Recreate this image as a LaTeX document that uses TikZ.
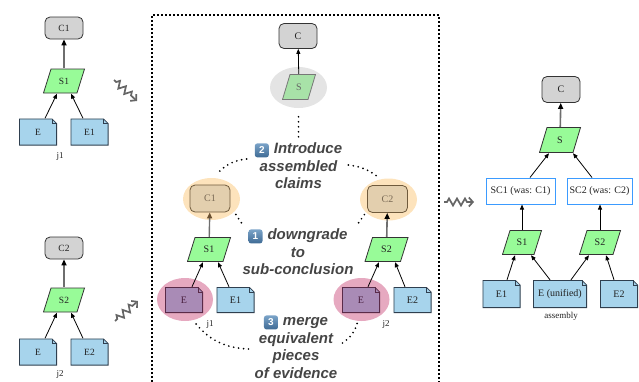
\documentclass[tikz,border=0pt]{standalone}
\usepackage{fontspec}
\setmainfont{Liberation Serif}
\newfontfamily\labelsans{Liberation Sans}
\usetikzlibrary{arrows.meta,calc,decorations.pathmorphing,shapes.geometric}

\definecolor{claimgray}{HTML}{D3D3D3}
\definecolor{boxline}{HTML}{333333}
\definecolor{stratgreen}{HTML}{98FB98}
\definecolor{evblue}{HTML}{A7D4EC}
\definecolor{evline}{HTML}{2F3F4F}
\definecolor{scblue}{HTML}{3B9BFF}
\definecolor{linkgray}{HTML}{6E6E6E}
\definecolor{hlorange}{HTML}{FDE3BC}
\definecolor{tanfill}{HTML}{E3CFAE}
\definecolor{tanline}{HTML}{6F5A3C}
\definecolor{tantext}{HTML}{7A6A55}
\definecolor{tanarrow}{HTML}{6B5030}
\definecolor{hlpink}{HTML}{E6A9C0}
\definecolor{purplefill}{HTML}{A98BB6}
\definecolor{purpleline}{HTML}{5A2A48}
\definecolor{purpletext}{HTML}{4A2040}
\definecolor{hlgray}{HTML}{E4E4E4}
\definecolor{fadegreen}{HTML}{A8E2A8}
\definecolor{fadeline}{HTML}{777777}
\definecolor{fadetext}{HTML}{666666}
\definecolor{textdark}{HTML}{222222}
\definecolor{stepcol}{HTML}{454545}
\definecolor{squiggray}{HTML}{666666}
\definecolor{badgetop}{HTML}{7AA3C8}
\definecolor{badgebot}{HTML}{3E6A94}

% inline numbered badge for the step captions
\newcommand\numbadge[1]{\tikz[baseline=(nb.base)]\node[badgebox](nb){#1};}

\tikzset{
  nodefont/.style={font=\fontsize{10}{12}\selectfont},
  smallfont/.style={font=\fontsize{9.5}{11}\selectfont},
  claim/.style={rectangle, rounded corners=5pt, draw=boxline, line width=0.8pt,
    fill=claimgray, minimum width=38pt, minimum height=25pt, inner sep=0pt,
    nodefont, text=textdark},
  sc/.style={rectangle, draw=scblue, line width=1pt, fill=white,
    minimum height=26pt, inner sep=0pt, nodefont, text=textdark},
  stratfill/.store in=\stratfillcol, stratfill=stratgreen,
  stratline/.store in=\stratlinecol, stratline=boxline,
  strat/.style={rectangle, inner sep=0pt, minimum width=42pt, minimum height=25pt,
    nodefont, text=textdark,
    path picture={
      \path[fill=\stratfillcol, draw=\stratlinecol, line width=0.8pt]
        ([shift={(0.5pt,0.5pt)}]path picture bounding box.south west) --
        ([shift={(8pt,-0.5pt)}]path picture bounding box.north west) --
        ([shift={(-0.5pt,-0.5pt)}]path picture bounding box.north east) --
        ([shift={(-8pt,0.5pt)}]path picture bounding box.south east) -- cycle;
    }},
  evfill/.store in=\evfillcol, evfill=evblue,
  evborder/.store in=\evbordercol, evborder=evline,
  evid/.style={rectangle, inner sep=0pt, minimum width=38pt, minimum height=26pt,
    nodefont, text=textdark,
    path picture={
      \path[fill=\evfillcol, draw=\evbordercol, line width=0.8pt]
        ([shift={(0.4pt,0.4pt)}]path picture bounding box.south west) --
        ([shift={(0.4pt,-0.4pt)}]path picture bounding box.north west) --
        ([shift={(-5pt,-0.4pt)}]path picture bounding box.north east) --
        ([shift={(-0.4pt,-5pt)}]path picture bounding box.north east) --
        ([shift={(-0.4pt,0.4pt)}]path picture bounding box.south east) -- cycle;
      \draw[\evbordercol, line width=0.6pt]
        ([shift={(-5pt,-0.4pt)}]path picture bounding box.north east) --
        ([shift={(-5pt,-5pt)}]path picture bounding box.north east) --
        ([shift={(-0.4pt,-5pt)}]path picture bounding box.north east);
    }},
  treelabel/.style={inner sep=0pt, font=\fontsize{9}{10}\selectfont, text=textdark},
  highlight/.style={ellipse, inner sep=0pt, draw=none},
  link/.style={draw=black, line width=0.8pt, -{Triangle[length=5pt,width=4pt]}},
  uplink/.style={draw=linkgray, line width=1.6pt, -{Triangle[length=6pt,width=5pt,color=black]}},
  fadedlink/.style={draw=linkgray, line width=1.4pt, -{Triangle[length=6pt,width=5pt,color=tanarrow]}},
  dotline/.style={draw=black, line width=1.9pt, dash pattern=on 0pt off 5pt, line cap=round},
  boxframe/.style={draw=black, line width=1.7pt, dash pattern=on 1.6pt off 2.4pt},
  squig/.style={draw=squiggray, line width=1.7pt, line join=miter, decorate,
    decoration={zigzag, amplitude=3.5pt, segment length=8pt, pre length=3pt, post length=6pt},
    -{Straight Barb[length=4pt,width=9pt]}},
  steptext/.style={inner sep=0pt, align=center, text=stepcol,
    font=\labelsans\bfseries\itshape\fontsize{15}{17.5}\selectfont},
  badgebox/.style={rectangle, rounded corners=2.5pt, inner sep=0pt, minimum size=14pt,
    top color=badgetop, bottom color=badgebot, draw=none, text=white,
    font=\labelsans\bfseries\upshape\fontsize{10}{10}\selectfont},
}

\begin{document}
\begin{tikzpicture}[x=1pt, y=1pt]
\useasboundingbox (0,0) rectangle (639,-381);

% ---------------- argument j1 ----------------
\node[claim, minimum height=22pt, smallfont] (lC1) at (64,-28) {C1};
\node[strat, smallfont] (lS1) at (64,-81) {S1};
\node[evid, minimum height=27pt, smallfont] (lE) at (38,-132) {E};
\node[evid, minimum height=27pt, smallfont] (lE1) at (89.5,-132) {E1};
\node[treelabel] (lj1) at (60,-156) {j1};
\draw[uplink] (lS1) -- (lC1);
\draw[link] ([xshift=7pt]lE.north) -- ([xshift=-7pt]lS1.south);
\draw[link] ([xshift=-6.5pt]lE1.north) -- ([xshift=7pt]lS1.south);

% ---------------- argument j2 ----------------
\node[claim, minimum height=22pt, smallfont] (lC2) at (64,-248) {C2};
\node[strat, smallfont] (lS2) at (64,-300) {S2};
\node[evid, minimum height=27pt, smallfont] (lEb) at (38,-352) {E};
\node[evid, minimum height=27pt, smallfont] (lE2) at (89.5,-352) {E2};
\node[treelabel] (lj2) at (60,-374) {j2};
\draw[uplink] (lS2) -- (lC2);
\draw[link] ([xshift=7pt]lEb.north) -- ([xshift=-7pt]lS2.south);
\draw[link] ([xshift=-6.5pt]lE2.north) -- ([xshift=7pt]lS2.south);

% squiggly transition arrows
\coordinate (q1a) at (114,-80);  \coordinate (q1b) at (137,-101);
\coordinate (q2a) at (115,-321); \coordinate (q2b) at (138,-301);
\coordinate (q3a) at (444,-202); \coordinate (q3b) at (474,-202);
\draw[squig] (q1a) -- (q1b);
\draw[squig] (q2a) -- (q2b);
\draw[squig] (q3a) -- (q3b);

% ---------------- assembly steps (framed) ----------------
\draw[boxframe] (152,-390) -- (152,-15) -- (439,-15) -- (439,-390);

% highlights
\node[highlight, fill=hlgray, minimum width=57pt, minimum height=41pt] (hlS) at (298.5,-87.5) {};
\node[highlight, fill=hlorange, minimum width=57pt, minimum height=42pt] (hl1) at (211.5,-199) {};
\node[highlight, fill=hlorange, minimum width=57pt, minimum height=42pt] (hl2) at (388.5,-199.5) {};
\node[highlight, fill=hlpink, minimum width=56pt, minimum height=43pt] (hlE1) at (185,-299.5) {};
\node[highlight, fill=hlpink, minimum width=56pt, minimum height=43pt] (hlE2) at (361.5,-299.5) {};

% new top claim and strategy
\node[claim] (mC) at (298,-36) {C};
\node[strat, stratfill=fadegreen, stratline=fadeline, text=fadetext,
      minimum width=34pt, minimum height=26pt] (mS) at (299,-87) {S};
\draw[link] (mS) -- (mC);

% left sub-argument
\node[claim, fill=tanfill, draw=tanline, text=tantext, minimum width=40pt, minimum height=27pt] (mC1) at (210,-198.5) {C1};
\node[strat, minimum width=44pt] (mS1) at (209,-249.5) {S1};
\node[evid, evfill=purplefill, evborder=purpleline, text=purpletext] (mEa) at (184,-300) {E};
\node[evid] (mEone) at (235.5,-300) {E1};
\node[treelabel] (mj1) at (210,-324) {j1};
\draw[fadedlink] (mS1) -- (mC1);
\draw[link] ([xshift=8pt]mEa.north) -- ([xshift=-6pt]mS1.south);
\draw[link] ([xshift=-6.5pt]mEone.north) -- ([xshift=9pt]mS1.south);

% right sub-argument
\node[claim, fill=tanfill, draw=tanline, text=tantext, minimum width=40pt, minimum height=27pt] (mC2) at (387.5,-199) {C2};
\node[strat, minimum width=44pt] (mS2) at (386.5,-249.5) {S2};
\node[evid, evfill=purplefill, evborder=purpleline, text=purpletext] (mEb) at (361,-300) {E};
\node[evid] (mEtwo) at (412.5,-300) {E2};
\node[treelabel] (mj2) at (386,-324) {j2};
\draw[uplink] (mS2) -- (mC2);
\draw[link] ([xshift=7pt]mEb.north) -- ([xshift=-7.5pt]mS2.south);
\draw[link] ([xshift=-7.5pt]mEtwo.north) -- ([xshift=8.5pt]mS2.south);

% step captions
\node[steptext] (T2) at (298.5,-166) {\numbadge{2}\hspace{5pt}Introduce\\assembled\\claims};
\node[steptext] (T1) at (298,-252) {\numbadge{1}\hspace{5pt}downgrade\\to\\sub-conclusion};
\node[steptext] (T3) at (296,-347) {\numbadge{3}\hspace{5pt}merge\\equivalent\\pieces\\of evidence};

% dotted call-outs from captions to highlighted elements
\draw[dotline] ([yshift=6pt]T2.north) -- ([yshift=-5pt]hlS.south);
\draw[dotline] ($(T2.west)+(-8,7)$) to[bend right=20] ($(hl1.north)+(5.5,4)$);
\draw[dotline] ($(T2.east)+(6,1)$) to[bend left=15] ($(hl2.north)+(-10,1)$);
\draw[dotline] ($(T1.north west)+(-1,6)$) -- ($(hl1.south east)+(3,1)$);
\draw[dotline] ($(T1.north east)+(5,6)$) -- ($(hl2.south west)+(-3,1)$);
\draw[dotline] ($(T3.west)+(-6,-2)$) to[bend left=25] ($(hlE1.south)+(8,1)$);
\draw[dotline] ($(T3.east)+(5,4)$) to[bend right=20] ($(hlE2.south)+(-4,-1)$);

% ---------------- assembled argument ----------------
\node[claim, minimum height=26pt] (rC) at (561,-89.5) {C};
\node[strat, minimum height=26pt] (rS) at (560,-140) {S};
\node[sc, minimum width=69pt] (rSC1) at (520.5,-191) {SC1 (was: C1)};
\node[sc, minimum width=65pt] (rSC2) at (599.5,-191) {SC2 (was: C2)};
\node[strat, minimum width=40pt] (rS1) at (522,-242.5) {S1};
\node[strat, minimum width=42pt] (rS2) at (600,-242.5) {S2};
\node[evid, minimum height=28pt] (rE1) at (501.5,-294) {E1};
\node[evid, minimum width=54pt, minimum height=28pt] (rE) at (560,-294) {E (unified)};
\node[evid, minimum height=28pt] (rE2) at (619,-294) {E2};
\node[treelabel] (rlab) at (561,-316) {assembly};
\draw[uplink] (rS) -- (rC);
\draw[link] ([xshift=9.5pt]rSC1.north) -- ([xshift=-11pt]rS.south);
\draw[link] ([xshift=-7.5pt]rSC2.north) -- ([xshift=13pt]rS.south);
\draw[link] (rS1.north) -- (rS1.north |- rSC1.south);
\draw[link] (rS2.north) -- (rS2.north |- rSC2.south);
\draw[link] ([xshift=5.5pt]rE1.north) -- ([xshift=-7pt]rS1.south);
\draw[link] ([xshift=-10pt]rE.north) -- ([xshift=9pt]rS1.south);
\draw[link] ([xshift=11pt]rE.north) -- ([xshift=-11pt]rS2.south);
\draw[link] ([xshift=-5pt]rE2.north) -- ([xshift=6pt]rS2.south);
\end{tikzpicture}
\end{document}
